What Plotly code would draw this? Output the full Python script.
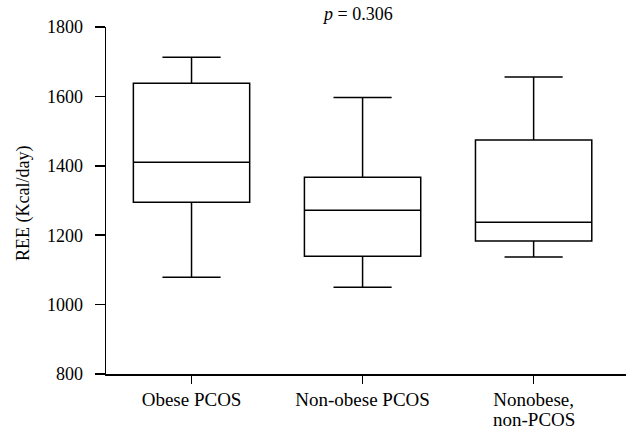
import plotly.graph_objects as go

groups = ["Obese PCOS", "Non-obese PCOS", "Nonobese,\nnon-PCOS"]
lower_whisker = [1079, 1050, 1137]
q1 = [1295, 1139, 1183]
median = [1410, 1272, 1237]
q3 = [1638, 1367, 1474]
upper_whisker = [1713, 1597, 1656]
y_ticks = [800, 1000, 1200, 1400, 1600, 1800]
p_value = "0.306"

FONT = "Liberation Serif"
xpos = list(range(len(groups)))

# first line of each label as tick text, any second line as a tighter-spaced annotation
first_lines = [g.split("\n")[0] for g in groups]
second_lines = [(i, g.split("\n")[1]) for i, g in enumerate(groups) if "\n" in g]

fig = go.Figure()
fig.add_trace(go.Box(
    x=xpos,
    q1=q1, median=median, q3=q3,
    lowerfence=lower_whisker, upperfence=upper_whisker,
    width=0.68, whiskerwidth=0.5,
    fillcolor="rgba(255,255,255,0)",
    line=dict(color="black", width=1.5),
    boxpoints=False, showlegend=False, hoverinfo="skip",
))

annotations = [
    dict(
        text="<i>p</i> = " + p_value, xref="paper", yref="paper",
        x=0.483, y=1.0, yshift=13, yanchor="middle", showarrow=False,
        font=dict(family=FONT, size=18, color="black"),
    ),
    dict(
        text="REE (Kcal/day)", xref="paper", yref="paper",
        x=0, y=0.49, xshift=-82, textangle=-90,
        xanchor="center", yanchor="middle", showarrow=False,
        font=dict(family=FONT, size=18, color="black"),
    ),
]
for i, txt in second_lines:
    annotations.append(dict(
        text=txt, xref="x", yref="paper", x=i, y=0, yshift=-45,
        xanchor="center", yanchor="middle", showarrow=False,
        font=dict(family=FONT, size=19, color="black"),
    ))

fig.update_layout(
    width=630, height=430,
    margin=dict(l=106, r=4, t=27, b=56, autoexpand=False),
    paper_bgcolor="white", plot_bgcolor="white",
    font=dict(family=FONT, size=18, color="black"),
    xaxis=dict(
        range=[-0.5, 2.54], tickmode="array", tickvals=xpos, ticktext=first_lines,
        ticks="outside", ticklen=8, tickwidth=1.5, tickcolor="black",
        tickfont=dict(family=FONT, size=19, color="black"),
        showline=True, linecolor="black", linewidth=1.5,
        showgrid=False, zeroline=False, fixedrange=True, automargin=False,
    ),
    yaxis=dict(
        range=[800, 1800], tickmode="array", tickvals=y_ticks,
        ticks="outside", ticklen=10, tickwidth=1.5, tickcolor="black",
        tickfont=dict(family=FONT, size=18, color="black"),
        ticklabelstandoff=8,
        showline=True, linecolor="black", linewidth=1.5,
        showgrid=False, zeroline=False, fixedrange=True, automargin=False,
    ),
    annotations=annotations,
)

fig.write_html(
    "out.html",
    config=dict(displayModeBar=False, staticPlot=True),
    post_script="document.body.style.margin='0';document.body.style.overflow='hidden';",
)
